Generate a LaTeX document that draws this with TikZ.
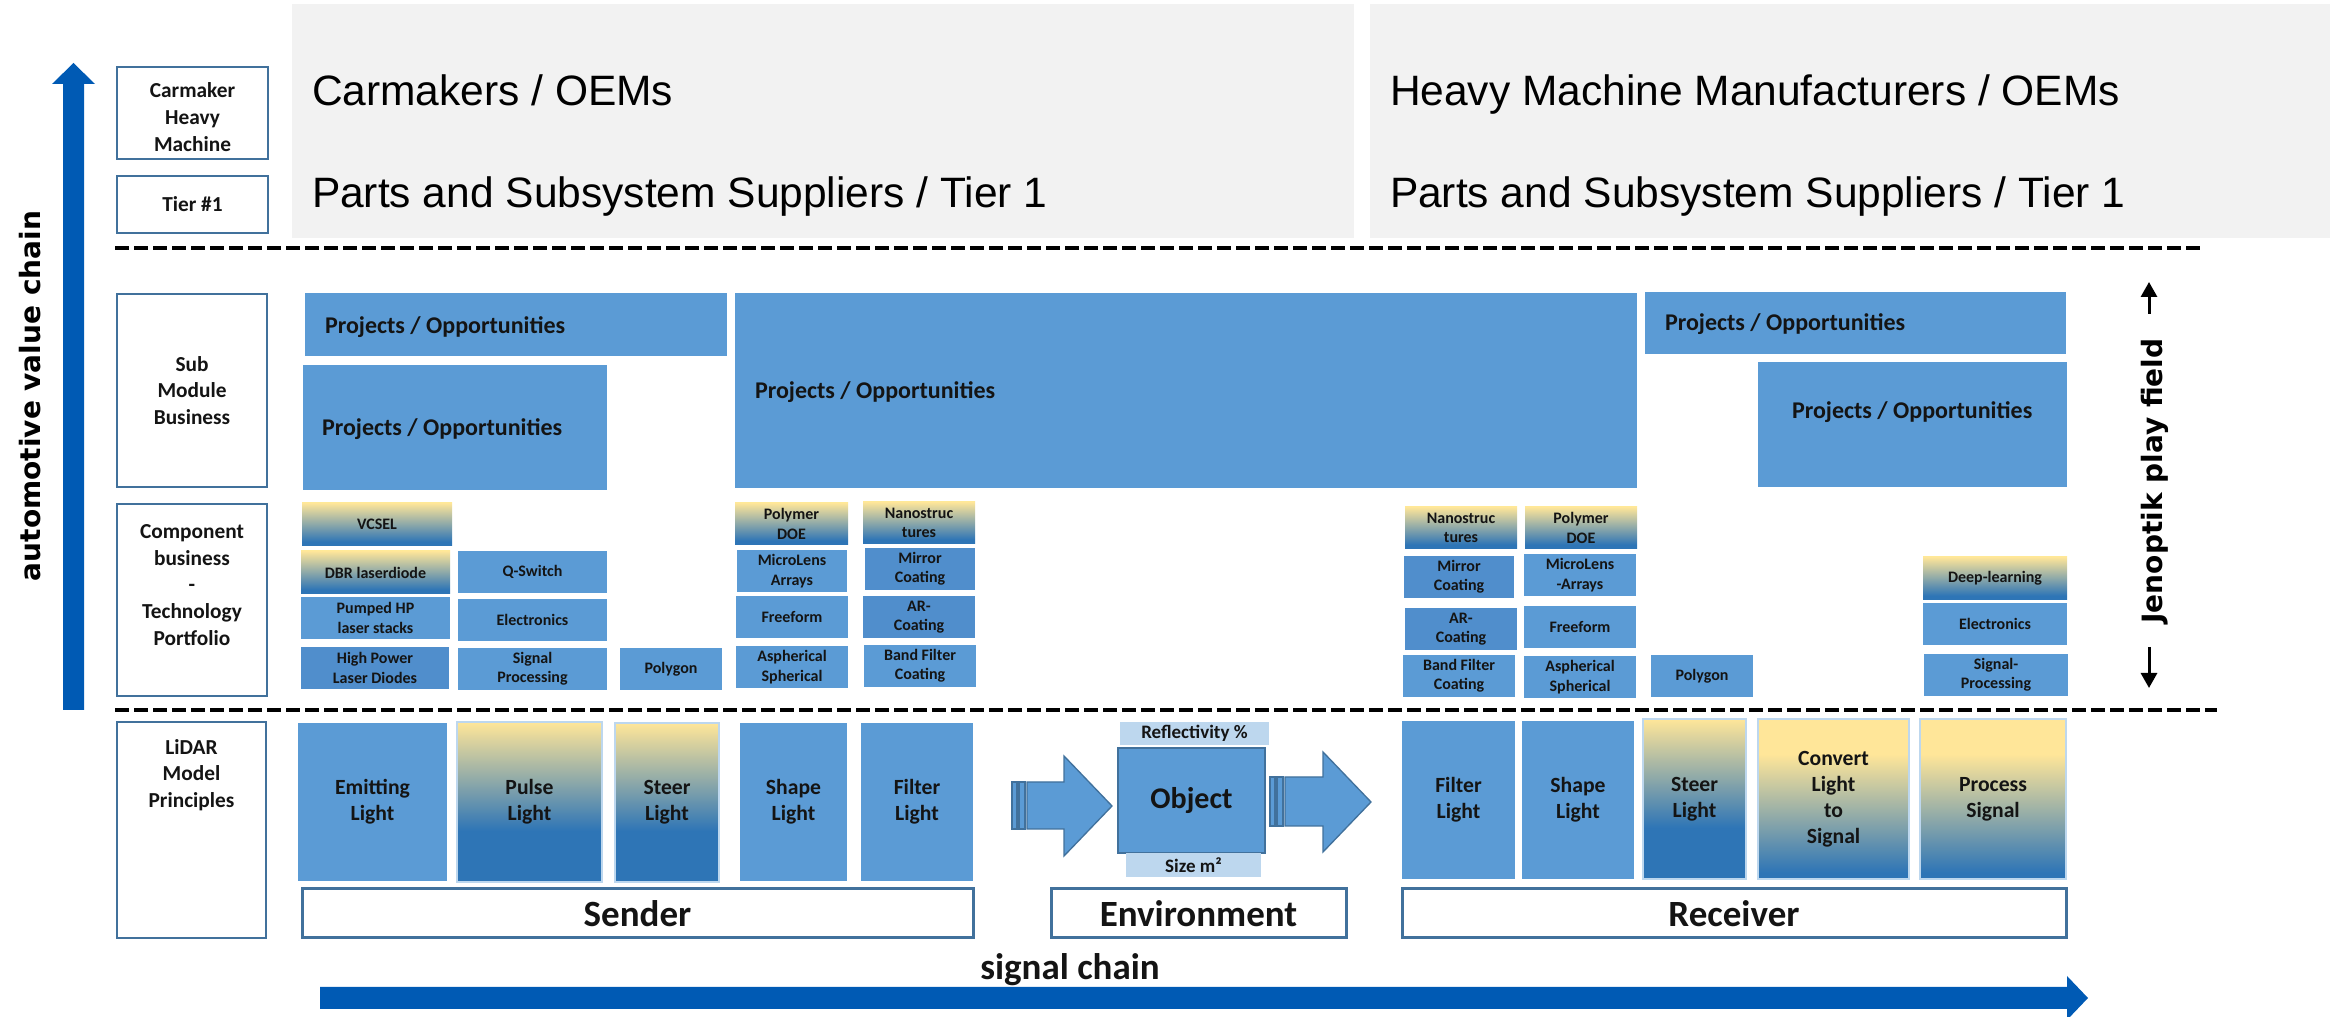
\documentclass[tikz,border=0pt]{standalone}
\usepackage{fontspec}
\setmainfont{Carlito}
\newfontfamily\headfont{Liberation Sans}
\newfontfamily\sidefont{DejaVu Sans}
\usetikzlibrary{arrows.meta}

\definecolor{boxblue}{RGB}{91,155,213}
\definecolor{boxdeep}{RGB}{80,142,204}
\definecolor{edgeblue}{RGB}{65,113,156}
\definecolor{chainblue}{RGB}{0,90,180}
\definecolor{paleblue}{RGB}{189,215,238}
\definecolor{warmyellow}{RGB}{255,230,153}
\definecolor{steelblue}{RGB}{46,117,182}
\definecolor{headgray}{RGB}{242,242,242}
\definecolor{inkblack}{RGB}{20,20,20}

% vertical fades: yellow at the top edge, steel blue at the bottom edge
\pgfdeclareverticalshading{techshade}{100bp}{color(0bp)=(steelblue); color(25bp)=(steelblue); color(30bp)=(steelblue); color(75bp)=(warmyellow); color(100bp)=(warmyellow)}
\pgfdeclareverticalshading{stageshade}{100bp}{color(0bp)=(steelblue); color(25bp)=(steelblue); color(41bp)=(steelblue); color(75bp)=(warmyellow); color(100bp)=(warmyellow)}
\pgfdeclareverticalshading{lateshade}{100bp}{color(0bp)=(steelblue); color(25bp)=(steelblue); color(27bp)=(steelblue); color(64bp)=(warmyellow); color(100bp)=(warmyellow)}

% \cellbox{name}{style}{x1}{y1}{x2}{y2}{text}: a box spanning the two corners
\newcommand\cellbox[7]{\node[#2, minimum width={(#5-#3)*0.3pt}, minimum height={(#6-#4)*0.3pt}] (#1) at ({(#3+#5)/2},{(#4+#6)/2}) {#7};}

\begin{document}
\begin{tikzpicture}[x=0.3pt, y=-0.3pt,
  every node/.style={inner sep=0pt, outer sep=0pt, text=inkblack},
  cell/.style={align=center, font=\bfseries\fontsize{4.8}{5.8}\selectfont},
  flat/.style={cell, fill=boxblue},
  deep/.style={cell, fill=boxdeep},
  warm/.style={cell, shade, shading=techshade},
  stage/.style={align=center, font=\bfseries\fontsize{6.5}{7.8}\selectfont},
  stageflat/.style={stage, fill=boxblue},
  stagewarm/.style={stage, shade, shading=stageshade, draw=paleblue, line width=0.45pt},
  stagelate/.style={stage, shade, shading=lateshade, draw=paleblue, line width=0.45pt},
  tag/.style={draw=edgeblue, line width=0.75pt, fill=white},
  tagtext/.style={align=center, font=\bfseries\fontsize{6.4}{8}\selectfont},
  group/.style={draw=edgeblue, line width=0.9pt, fill=white, font=\bfseries\fontsize{11.1}{13}\selectfont},
  opp/.style={fill=boxblue},
  opptext/.style={anchor=west, font=\bfseries\fontsize{7.2}{8.6}\selectfont},
  headbox/.style={fill=headgray},
  head/.style={anchor=base west, font=\headfont\fontsize{12.75}{15}\selectfont, text=black},
  dashrule/.style={line width=1.4pt, dash pattern=on 4.2pt off 1.5pt},
  sidetext/.style={rotate=90, font=\sidefont\bfseries\fontsize{8.4}{10}\selectfont, text=black},
  tinyarrow/.style={line width=0.9pt, -{Triangle[length=4.5pt,width=4.8pt]}},
  blockarrow/.style={fill=boxblue, draw=edgeblue, line width=0.4pt},
  pale/.style={fill=paleblue, font=\bfseries\fontsize{5.7}{6.8}\selectfont},
  objbox/.style={fill=boxblue, draw=edgeblue, line width=0.6pt, font=\bfseries\fontsize{9}{11}\selectfont}
]
\useasboundingbox (0,0) rectangle (2346,1017);

% ---- value chain arrow and side captions
\fill[chainblue] (63,710) -- (63,84) -- (52,84) -- (73.5,63) -- (95,84) -- (84,84) -- (84,710) -- cycle;
\node[sidetext] (avc) at (30,396) {automotive value chain};
\node[sidetext] (jpf) at (2155,481) {Jenoptik play field};
\coordinate (jup-s) at (2149,314);
\coordinate (jup-e) at (2149,282);
\coordinate (jdn-s) at (2149,647);
\coordinate (jdn-e) at (2149,688);
\draw[tinyarrow] (jup-s) -- (jup-e);
\draw[tinyarrow] (jdn-s) -- (jdn-e);

% ---- OEM / Tier 1 band
\cellbox{hdl}{headbox}{292}{4}{1354}{238}{}
\cellbox{hdr}{headbox}{1370}{4}{2330}{238}{}
\node[head] (oem-l) at (312,106) {Carmakers / OEMs};
\node[head] (tier-l) at (312,208) {Parts and Subsystem Suppliers / Tier 1};
\node[head] (oem-r) at (1390,106) {Heavy Machine Manufacturers / OEMs};
\node[head] (tier-r) at (1390,208) {Parts and Subsystem Suppliers / Tier 1};

% ---- row captions
\cellbox{carm}{tag}{117}{67}{268}{159}{}
\node[tagtext] (carm-t) at (192.5,117) {Carmaker\\Heavy\\Machine};
\cellbox{tier}{tag, tagtext}{117}{176}{268}{233}{Tier \#1}
\cellbox{smb}{tag, tagtext}{117}{294}{267}{487}{Sub\\Module\\Business}
\cellbox{cbt}{tag}{117}{504}{267}{696}{}
\node[tagtext] (cbt-t) at (192,585) {Component\\business\\-\\Technology\\Portfolio};
\cellbox{lmp}{tag}{117}{722}{266}{938}{}
\node[tagtext] (lmp-t) at (191.5,775) {LiDAR\\Model\\Principles};

% ---- separators
\draw[dashrule] (115,248) -- (2204,248);
\draw[dashrule] (115,710) -- (2217,710);

% ---- sub module business
\cellbox{po1}{opp}{305}{293}{727}{356}{}
\cellbox{po2}{opp}{303}{365}{607}{490}{}
\cellbox{po3}{opp}{735}{293}{1637}{488}{}
\cellbox{po4}{opp}{1645}{292}{2066}{354}{}
\cellbox{po5}{opp}{1758}{362}{2067}{487}{}
\node[opptext] (po1-t) at (325,327) {Projects / Opportunities};
\node[opptext] (po2-t) at (322,429) {Projects / Opportunities};
\node[opptext] (po3-t) at (755,392) {Projects / Opportunities};
\node[opptext] (po4-t) at (1665,324) {Projects / Opportunities};
\node[opptext] (po5-t) at (1792,412) {Projects / Opportunities};

% ---- technology portfolio, sender side
\cellbox{vcsel}{warm}{302}{503}{452}{546}{VCSEL}
\cellbox{dbr}{warm}{301}{551}{450}{594}{DBR laserdiode}
\cellbox{pumped}{flat}{301}{597}{450}{639}{Pumped HP\\laser stacks}
\cellbox{hpld}{deep}{301}{647}{449}{689}{High Power\\Laser Diodes}
\cellbox{qsw}{flat}{458}{551}{607}{593}{Q-Switch}
\cellbox{elec1}{flat}{458}{599}{607}{641}{Electronics}
\cellbox{sigp1}{flat}{458}{648}{607}{690}{Signal\\Processing}
\cellbox{poly1}{flat}{620}{648}{722}{690}{Polygon}
\cellbox{pdoe1}{warm}{735}{503}{848}{545}{Polymer\\DOE}
\cellbox{nano1}{warm}{863}{502}{975}{544}{Nanostruc\\tures}
\cellbox{mla1}{flat}{737}{550}{847}{592}{MicroLens\\Arrays}
\cellbox{mirr1}{deep}{865}{548}{975}{590}{Mirror\\Coating}
\cellbox{free1}{flat}{736}{596}{848}{638}{Freeform}
\cellbox{arc1}{deep}{863}{596}{975}{638}{AR-\\Coating}
\cellbox{asph1}{flat}{736}{646}{848}{688}{Aspherical\\Spherical}
\cellbox{band1}{flat}{864}{645}{976}{687}{Band Filter\\Coating}

% ---- technology portfolio, receiver side
\cellbox{nano2}{warm}{1405}{507}{1517}{549}{Nanostruc\\tures}
\cellbox{pdoe2}{warm}{1525}{507}{1637}{549}{Polymer\\DOE}
\cellbox{mirr2}{deep}{1404}{556}{1514}{598}{Mirror\\Coating}
\cellbox{mla2}{flat}{1524}{554}{1636}{596}{MicroLens\\-Arrays}
\cellbox{arc2}{deep}{1405}{608}{1517}{650}{AR-\\Coating}
\cellbox{free2}{flat}{1524}{606}{1636}{648}{Freeform}
\cellbox{band2}{flat}{1403}{655}{1515}{697}{Band Filter\\Coating}
\cellbox{asph2}{flat}{1524}{656}{1636}{698}{Aspherical\\Spherical}
\cellbox{poly2}{flat}{1651}{655}{1753}{697}{Polygon}
\cellbox{dl}{warm}{1923}{557}{2067}{600}{Deep-learning}
\cellbox{elec2}{flat}{1923}{603}{2067}{645}{Electronics}
\cellbox{sigp2}{flat}{1924}{654}{2068}{696}{Signal-\\Processing}

% ---- LiDAR model principles
\cellbox{emit}{stageflat}{298}{723}{447}{881}{Emitting\\Light}
\cellbox{pulse}{stagewarm}{457}{722}{602}{882}{Pulse\\Light}
\cellbox{steer1}{stagewarm}{615}{723}{719}{882}{Steer\\Light}
\cellbox{shape1}{stageflat}{740}{723}{847}{881}{Shape\\Light}
\cellbox{filt1}{stageflat}{861}{723}{973}{881}{Filter\\Light}
\cellbox{filt2}{stageflat}{1402}{721}{1515}{879}{Filter\\Light}
\cellbox{shape2}{stageflat}{1522}{721}{1634}{879}{Shape\\Light}
\cellbox{steer2}{stagewarm}{1643}{719}{1746}{879}{Steer\\Light}
\cellbox{conv}{stagelate}{1758}{719}{1909}{879}{Convert\\Light\\to\\Signal}
\cellbox{proc}{stagelate}{1920}{719}{2066}{879}{Process\\Signal}

% ---- environment: incoming and outgoing light around the object
\path[blockarrow] (1012,782) rectangle (1017,829);
\path[blockarrow] (1019,782) rectangle (1025,829);
\path[blockarrow] (1027,782) -- (1064,782) -- (1064,756) -- (1112,806) -- (1064,856) -- (1064,829) -- (1027,829) -- cycle;
\path[blockarrow] (1270,777) rectangle (1275,826);
\path[blockarrow] (1277,777) rectangle (1283,826);
\path[blockarrow] (1285,777) -- (1323,777) -- (1323,752) -- (1371,802) -- (1323,852) -- (1323,826) -- (1285,826) -- cycle;
\cellbox{refl}{pale}{1120}{722}{1269}{745}{Reflectivity \%}
\cellbox{obj}{objbox}{1118}{748}{1265}{853}{Object}
\cellbox{size}{pale}{1126}{853}{1261}{877}{Size m²}

% ---- groups
\cellbox{sender}{group}{302}{889}{973}{938}{Sender}
\cellbox{env}{group}{1051}{889}{1346}{938}{Environment}
\cellbox{recv}{group}{1402}{889}{2066}{938}{Receiver}

% ---- signal chain arrow
\fill[chainblue] (320,987) -- (2067,987) -- (2067,976) -- (2088,998) -- (2067,1020) -- (2067,1009) -- (320,1009) -- cycle;
\node[anchor=base, font=\bfseries\fontsize{11.1}{13}\selectfont] (sc) at (1070,980) {signal chain};
\end{tikzpicture}
\end{document}
